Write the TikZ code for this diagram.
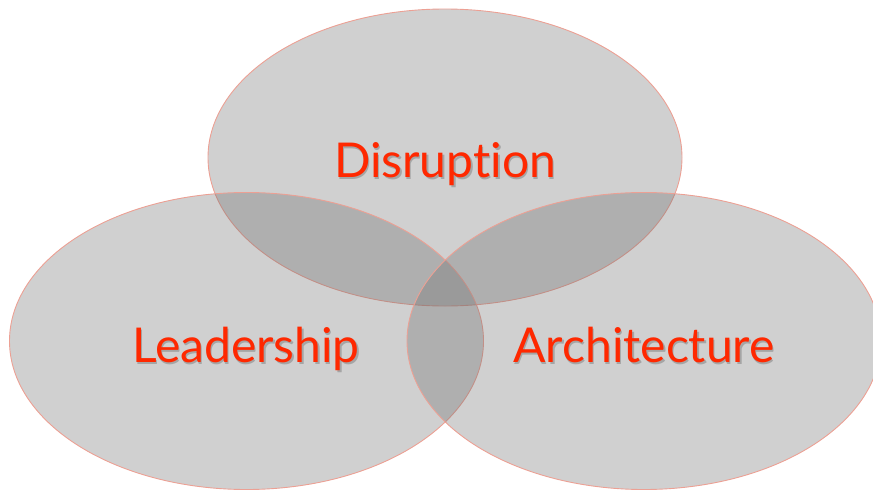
\documentclass[tikz,border=0pt]{standalone}
\usepackage{fontspec}
\setmainfont{Lato}[Ligatures=NoCommon]
\usetikzlibrary{shapes.geometric}
\definecolor{ringfill}{RGB}{108,108,108}
\definecolor{ringline}{RGB}{236,160,148}
\definecolor{wordred}{RGB}{255,40,0}
\definecolor{wordshade}{RGB}{165,165,165}
\newcommand{\shadedword}[1]{\rlap{\hspace{1.5pt}\raisebox{-2.5pt}{\color{wordshade}#1}}#1}
\tikzset{
    ring/.style={ellipse, draw=ringline, line width=0.9pt, fill=ringfill, fill opacity=0.32,
        minimum width=474pt, minimum height=297pt, inner sep=0pt},
    word/.style={anchor=base, text=wordred, font=\fontsize{48}{50}\selectfont}
}
\begin{document}
\begin{tikzpicture}[x=1pt, y=-1pt]
    \useasboundingbox (0,0) rectangle (873,490);
    % Ellipses
    \begin{scope}
    \clip (0,0) rectangle (873,490);
    \foreach \name/\x/\y in {disr/445/157.5, lead/246.5/341, arch/644/341} {
        \node[ring] (\name) at (\x,\y) {};
    }
    \end{scope}

    % Labels
    \foreach \name/\x/\y/\txt in {disrtxt/445/177/Disruption, leadtxt/246/362/Leadership, archtxt/644/362/Architecture} {
        \node[word] (\name) at (\x,\y) {\shadedword{\txt}};
    }
\end{tikzpicture}
\end{document}
